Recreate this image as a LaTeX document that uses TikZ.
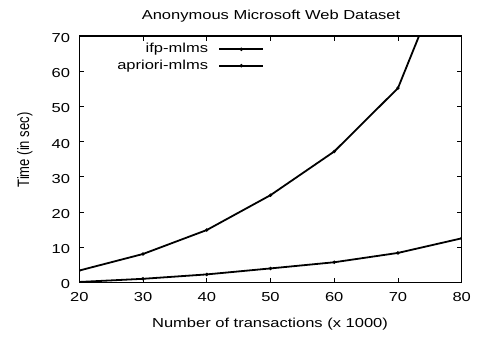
\documentclass[tikz,border=0pt]{standalone}
\usepackage{fontspec}
\usetikzlibrary{calc}
% Horizontal text is widened, the rotated axis title is narrowed along its run
\newfontfamily\hfont[FakeStretch=1.27]{Liberation Sans}
\newfontfamily\vfont[FakeStretch=0.79]{Liberation Sans}
\tikzset{
  lbl/.style={font=\hfont\fontsize{13bp}{15bp}\selectfont, inner sep=0pt},
  vlbl/.style={font=\vfont\fontsize{16.5bp}{18bp}\selectfont, inner sep=0pt},
  frame/.style={line width=1.4bp},
  tick/.style={line width=0.9bp},
  curve/.style={line width=1.8bp, line join=round},
  dot/.style={circle, fill=black, inner sep=0pt, minimum size=3.8bp},
}
\begin{document}
\begin{tikzpicture}[x=1bp,y=1bp]
\useasboundingbox (0,0) rectangle (479,339);
% title
\node[lbl, anchor=base] (title) at (271,320) {Anonymous Microsoft Web Dataset};
% axis titles
\node[vlbl, rotate=90, anchor=base] (ylab) at (29,189) {Time (in sec)};
\node[lbl, anchor=base] (xlab) at (270,12) {Number of transactions (x 1000)};

\begin{scope}[shift={(79.3,56.5)}, x=6.373bp, y=3.5214bp]
  % ticks on all four sides, pointing inward
  \foreach \v in {0,10,...,70} {
    \draw[tick] (0,\v) -- ++(5bp,0);
    \draw[tick] (60,\v) -- ++(-5bp,0);
    \node[lbl, anchor=east] (yt\v) at ([xshift=-9bp,yshift=-2bp]0,\v) {\v};
  }
  \foreach \t in {20,30,...,80} {
    \pgfmathtruncatemacro{\u}{\t-20}
    \draw[tick] (\u,0) -- ++(0,5bp);
    \draw[tick] (\u,70) -- ++(0,-5bp);
    \node[lbl, anchor=north] (xt\t) at ([yshift=-10bp]\u,0) {\t};
  }
  % data curves, clipped to the plotting area
  \begin{scope}
    \clip (0,0) rectangle (60,70);
    \draw[curve] plot coordinates {(0,0.15) (10,1.05) (20,2.3) (30,4.0) (40,5.75) (50,8.4) (60,12.55)};
    \foreach \p in {(0,0.15),(10,1.05),(20,2.3),(30,4.0),(40,5.75),(50,8.4),(60,12.55)}
      \node[dot] at \p {};
    \draw[curve] plot coordinates {(0,3.4) (10,8.1) (20,14.9) (30,24.8) (40,37.2) (50,55.2) (60,100)};
    \foreach \p in {(0,3.4),(10,8.1),(20,14.9),(30,24.8),(40,37.2),(50,55.2)}
      \node[dot] at \p {};
  \end{scope}
  % frame
  \draw[frame] (0,0) rectangle (60,70);
\end{scope}

% legend
\node[lbl, anchor=east] (leg1) at (208.3,290) {ifp-mlms};
\node[lbl, anchor=east] (leg2) at (208.3,273.3) {apriori-mlms};
\coordinate (l1a) at (219.3,289.7); \coordinate (l1b) at (263.3,289.7);
\coordinate (l2a) at (219.3,273.3); \coordinate (l2b) at (263.3,273.3);
\draw[curve] (l1a) -- (l1b);
\node[dot] at ($(l1a)!0.5!(l1b)$) {};
\draw[curve] (l2a) -- (l2b);
\node[dot] at ($(l2a)!0.5!(l2b)$) {};
\end{tikzpicture}
\end{document}
